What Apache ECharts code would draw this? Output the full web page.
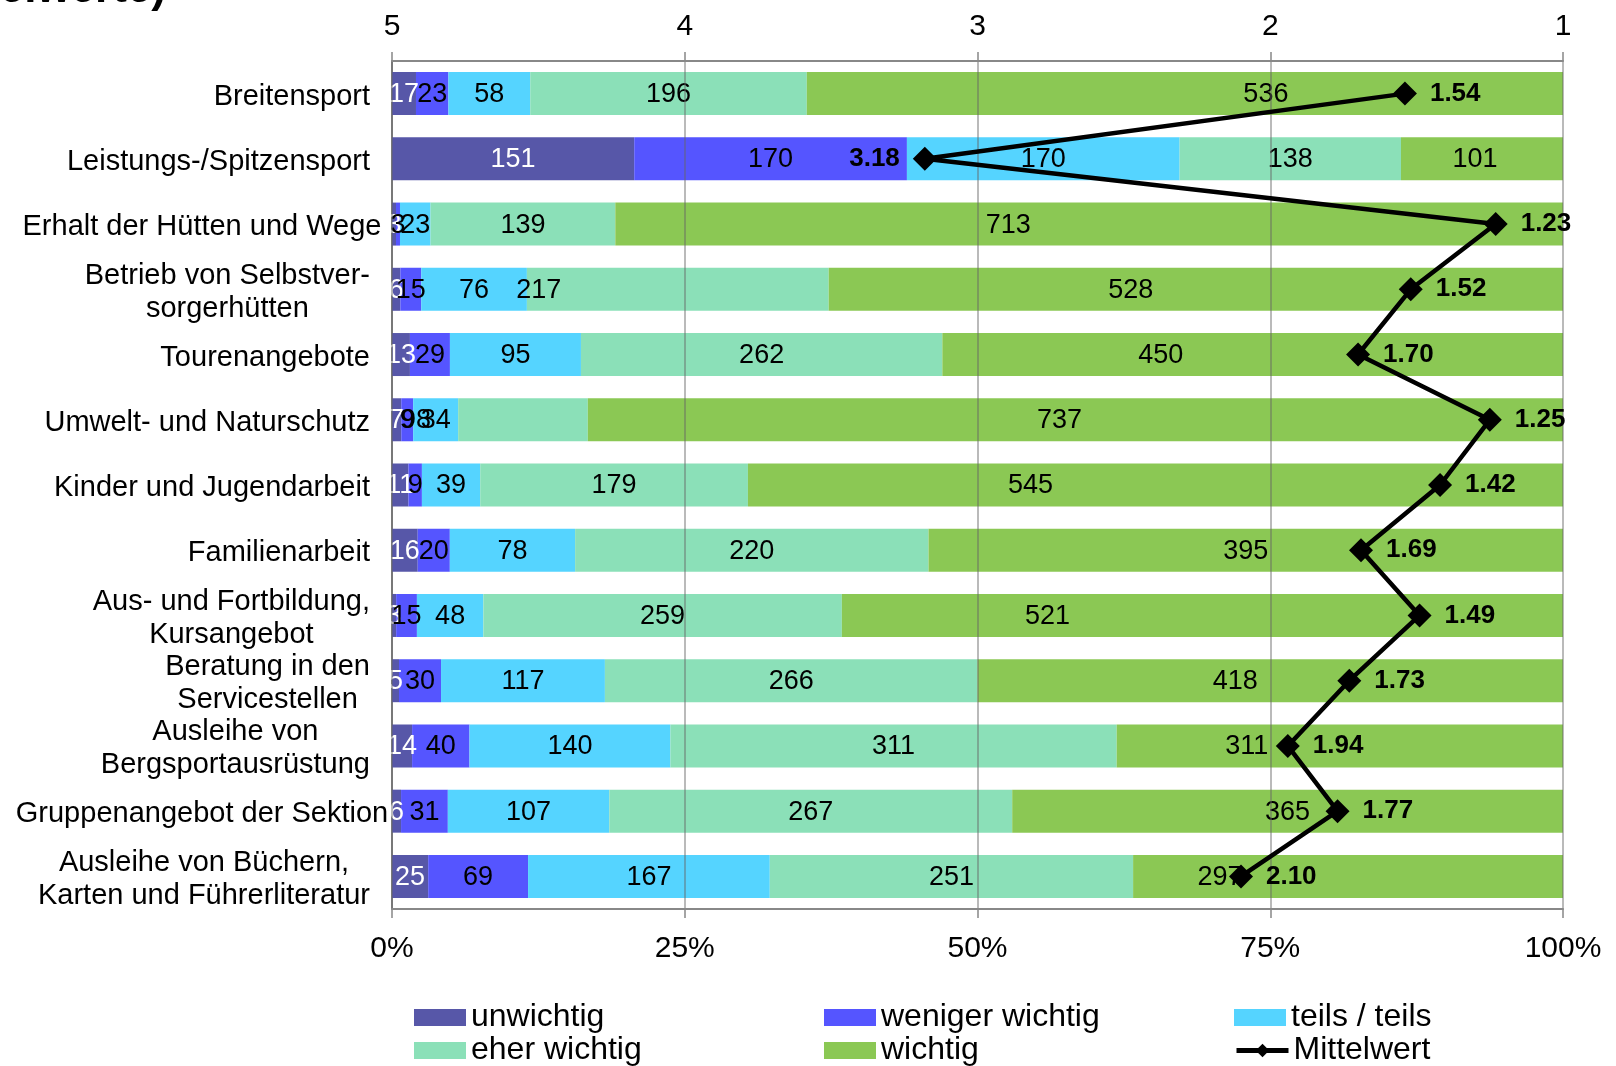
<!DOCTYPE html>
<html><head><meta charset="utf-8">
<script src="https://cdn.jsdelivr.net/npm/echarts@6/dist/echarts.min.js"></script>
<style>html,body{margin:0;padding:0;background:#fff}#c{width:1616px;height:1066px}</style>
</head><body><div id="c"></div>
<script>
const categories = [
  'Breitensport',
  'Leistungs-/Spitzensport',
  'Erhalt der Hütten und Wege',
  'Betrieb von Selbstver-\nsorgerhütten',
  'Tourenangebote',
  'Umwelt- und Naturschutz',
  'Kinder und Jugendarbeit',
  'Familienarbeit',
  'Aus- und Fortbildung,\nKursangebot',
  'Beratung in den\nServicestellen',
  'Ausleihe von\nBergsportausrüstung',
  'Gruppenangebot der Sektion',
  'Ausleihe von Büchern,\nKarten und Führerliteratur'
];
const seriesNames = ['unwichtig', 'weniger wichtig', 'teils / teils', 'eher wichtig', 'wichtig'];
const unwichtig      = [17, 151, 3, 6, 13, 7, 11, 16, 3, 5, 14, 6, 25];
const wenigerWichtig = [23, 170, 3, 15, 29, 9, 9, 20, 15, 30, 40, 31, 69];
const teilsTeils     = [58, 170, 23, 76, 95, 34, 39, 78, 48, 117, 140, 107, 167];
const eherWichtig    = [196, 138, 139, 217, 262, 98, 179, 220, 259, 266, 311, 267, 251];
const wichtig        = [536, 101, 713, 528, 450, 737, 545, 395, 521, 418, 311, 365, 297];
const mittelwert     = [1.54, 3.18, 1.23, 1.52, 1.70, 1.25, 1.42, 1.69, 1.49, 1.73, 1.94, 1.77, 2.10];
const meanTickLabels = ['5', '4', '3', '2', '1'];
const pctTickLabels  = ['0%', '25%', '50%', '75%', '100%'];
const titleFragment  = 'Mittelwerte)';

// ---- styling (label nudges as placed in the original chart, in px) ----
const FONT = '"Liberation Sans", Arial, Helvetica, sans-serif';
const colors = ['#5757A8', '#5555FF', '#55D4FF', '#8BE0B8', '#8BC854'];
const labelNudge = [
  [0, 0, 0, 0, 0, 0, 0, 0, 0, 0, 0, 0, 0],
  [0, 0, 0, 0, 0, 0, 0, 0, 0, 0, 0, 0, 0],
  [0, 0, 0, 0, 0, 0, 0, 0, 0, 0, 0, 0, 0],
  [0, 0, 0, -139, 0, -107, 0, 0, 0, 0, 0, 0, 0],
  [81, -7, -81, -65, -92, -16, -125, 0, -155, -35, -93, 0, -128]
];
const meanLabelSide = ['right', 'left', 'right', 'right', 'right', 'right', 'right', 'right', 'right', 'right', 'right', 'right', 'right'];

const counts = [unwichtig, wenigerWichtig, teilsTeils, eherWichtig, wichtig];
const totals = categories.map((_, i) => counts.reduce((s, arr) => s + arr[i], 0));

// category label layout (lines centered, block right aligned, long labels centered)
const ctx = document.createElement('canvas').getContext('2d');
ctx.font = '29px ' + FONT;
const rich = {};
categories.forEach((c, i) => {
  const w = Math.max(...c.split('\n').map(l => ctx.measureText(l).width));
  rich['c' + i] = { width: Math.min(w, 336), align: 'center', fontSize: 29, fontFamily: FONT, color: '#000', lineHeight: 33 };
});

const barSeries = counts.map((arr, s) => ({
  name: seriesNames[s],
  type: 'bar',
  stack: 'total',
  barWidth: 43,
  xAxisIndex: 0,
  yAxisIndex: 0,
  itemStyle: { color: colors[s] },
  label: {
    show: true,
    position: 'inside',
    fontSize: 27,
    fontFamily: FONT,
    color: s === 0 ? '#fff' : '#000',
    textBorderWidth: 0,
    formatter: p => String(arr[p.dataIndex])
  },
  emphasis: { disabled: true },
  data: arr.map((v, i) => ({ value: v / totals[i] * 100, label: { offset: [labelNudge[s][i], 1] } }))
}));

const lineSeries = {
  name: 'Mittelwert',
  type: 'line',
  xAxisIndex: 1,
  yAxisIndex: 0,
  z: 10,
  symbol: 'diamond',
  symbolSize: 24,
  lineStyle: { color: '#000', width: 4.5 },
  itemStyle: { color: '#000' },
  label: {
    show: true,
    position: 'right',
    distance: 13,
    fontSize: 26,
    fontWeight: 'bold',
    fontFamily: FONT,
    color: '#000',
    formatter: p => p.value[0].toFixed(2)
  },
  emphasis: { disabled: true },
  data: mittelwert.map((m, i) => ({ value: [m, i], label: { position: meanLabelSide[i] } }))
};

const chart = echarts.init(document.getElementById('c'), null, { renderer: 'canvas' });
chart.setOption({
  animation: false,
  backgroundColor: '#fff',
  textStyle: { fontFamily: FONT },
  grid: { left: 392, right: 53, top: 61, bottom: 157, containLabel: false },
  graphic: [{
    type: 'text', x: 166, y: 12,
    style: { text: titleFragment, font: 'bold 44px ' + FONT, textAlign: 'right', textVerticalAlign: 'bottom', fill: '#000' }
  }],
  legend: {
    left: 414, top: 1001, width: 1240, padding: 0,
    itemWidth: 52, itemHeight: 17, itemGap: 0,
    textStyle: { fontSize: 32, fontFamily: FONT, color: '#000', width: 353, lineHeight: 33 },
    data: [
      { name: 'unwichtig', icon: 'rect' },
      { name: 'weniger wichtig', icon: 'rect' },
      { name: 'teils / teils', icon: 'rect' },
      { name: 'eher wichtig', icon: 'rect' },
      { name: 'wichtig', icon: 'rect' },
      { name: 'Mittelwert', lineStyle: { width: 5 }, itemHeight: 22 }
    ]
  },
  xAxis: [{
    type: 'value', position: 'bottom', min: 0, max: 100, interval: 25, z: 3,
    axisLine: { show: true, lineStyle: { color: '#888', width: 2 } },
    axisTick: { show: true, length: 9, lineStyle: { color: '#888', width: 1.5 } },
    axisLabel: { fontSize: 30, fontFamily: FONT, color: '#000', margin: 25,
      formatter: (v) => pctTickLabels[Math.round(v / 25)] },
    splitLine: { show: true, lineStyle: { color: 'rgba(100,100,100,0.6)', width: 1.5 } }
  }, {
    type: 'value', position: 'top', min: 1, max: 5, interval: 1, inverse: true, z: 3,
    axisLine: { show: true, lineStyle: { color: '#888', width: 2 } },
    axisTick: { show: true, length: 9, lineStyle: { color: '#888', width: 1.5 } },
    axisLabel: { fontSize: 30, fontFamily: FONT, color: '#000', margin: 19,
      formatter: (v) => meanTickLabels[5 - Math.round(v)] },
    splitLine: { show: false }
  }],
  yAxis: [{
    type: 'category', inverse: true, data: categories,
    axisLine: { show: true, lineStyle: { color: '#888', width: 2 } },
    axisTick: { show: false },
    axisLabel: {
      margin: 22, rich, padding: [6, 0, 0, 0],
      formatter: (v, i) => v.split('\n').map(l => '{c' + i + '|' + l + '}').join('\n')
    },
    splitLine: { show: false }
  }],
  series: [...barSeries, lineSeries]
});
</script>
</body></html>
